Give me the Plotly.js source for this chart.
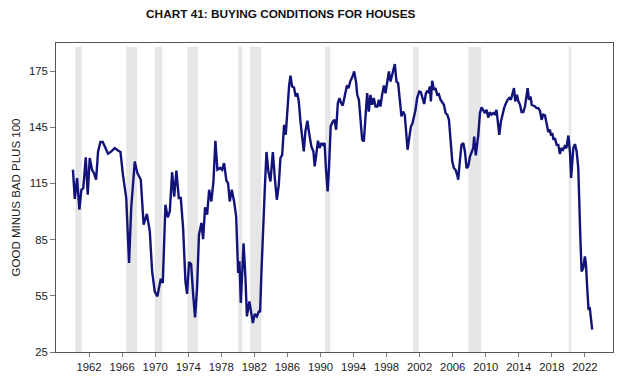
<!DOCTYPE html>
<html>
<head>
<meta charset="utf-8">
<script src="https://cdn.plot.ly/plotly-3.0.1.min.js"></script>
<style>html,body{margin:0;padding:0;background:#fff;}#chart{width:624px;height:380px;}</style>
</head>
<body>
<div id="chart"></div>
<script>
// Survey dates (fractional years) and index values (good minus bad plus 100)
var years = [
  1960.05,1960.27,1960.55,1960.83,1961.07,1961.3,1961.6,1961.84,1962.08,1962.36,1962.6,1962.85,1963.09,1963.37,1963.66,1963.94,1964.3,1964.7,1965.1,1965.5,1965.8,1966.1,1966.5,1966.84,1967.1,1967.53,1967.85,1968.26,1968.6,1969.0,1969.35,1969.63,1969.95,1970.27,
  1970.68,1970.92,1971.24,1971.52,1971.77,1972.05,1972.3,1972.57,1972.86,1973.1,1973.38,1973.66,1973.86,1974.1,1974.35,1974.6,1974.83,1975.07,1975.3,1975.6,1975.8,1976.04,1976.29,1976.53,1976.8,1977.05,1977.29,1977.53,1977.86,1978.1,1978.34,1978.62,1978.82,1979.02,1979.27,1979.55,1979.8,1980.04,1980.2,1980.36,1980.7,1980.92,1981.1,1981.4,1981.6,1981.82,
  1982.05,1982.3,1982.55,1982.7,1982.86,1983.07,1983.27,1983.47,1983.7,1983.95,1984.24,1984.48,1984.72,1984.96,1985.16,1985.37,1985.6,1985.8,1986.0,1986.2,1986.37,1986.57,1986.8,1987.0,1987.2,1987.38,1987.58,1987.78,1987.98,1988.18,1988.42,1988.63,1988.9,1989.15,1989.3,1989.5,1989.7,1989.9,1990.1,1990.3,1990.5,1990.66,1990.87,1991.03,1991.24,1991.5,1991.7,1991.9,1992.1,1992.3,1992.5,1992.7,
  1993.0,1993.2,1993.4,1993.6,1993.88,1994.08,1994.3,1994.45,1994.65,1994.85,1995.05,1995.25,1995.5,1995.65,1995.85,1996.05,1996.25,1996.45,1996.66,1996.9,1997.07,1997.26,1997.46,1997.67,1997.87,1998.07,1998.28,1998.48,1998.68,1998.84,1999.0,1999.2,1999.4,1999.6,1999.8,2000.0,2000.2,2000.4,2000.54,2000.74,2000.95,2001.14,2001.35,2001.5,2001.7,2001.95,2002.15,2002.35,2002.55,2002.76,2002.95,2003.05,
  2003.24,2003.36,2003.52,2003.73,2003.92,2004.13,2004.33,2004.53,2004.74,2004.94,2005.14,2005.34,2005.55,2005.67,2005.79,2005.95,2006.15,2006.35,2006.55,2006.67,2006.88,2007.07,2007.28,2007.48,2007.68,2007.88,2008.09,2008.28,2008.49,2008.6,2008.8,2009.1,2009.3,2009.5,2009.7,2009.9,2010.1,2010.3,2010.5,2010.7,2010.9,2011.1,2011.3,2011.5,2011.64,2011.84,2012.04,2012.24,2012.45,2012.65,2012.85,2013.05,2013.25,2013.42,2013.57,2013.78,
  2013.94,2014.15,2014.34,2014.55,2014.75,2014.95,2015.07,2015.24,2015.43,2015.56,2015.75,2015.96,2016.15,2016.36,2016.56,2016.76,2016.96,2017.17,2017.36,2017.57,2017.77,2017.9,2018.05,2018.2,2018.37,2018.58,2018.78,2018.98,2019.15,2019.35,2019.55,2019.76,2020.0,2020.2,2020.33,2020.45,2020.6,2020.8,2021.0,2021.2,2021.3,2021.45,2021.6,2021.8,2022.0,2022.13,2022.28,2022.44,2022.6,2022.73,2022.88
];
var index = [
  122.3,106.8,117.9,101,111.6,112.5,128.9,109,128.6,122.3,120.5,117,132,137.1,137.1,133.9,130.9,132.1,133.9,132.6,131.8,119.6,107.2,72.5,101.9,126.7,120.5,117,93,98.7,89.4,68,57.3,54.7,
  64.1,61.8,103.6,96.9,100,121,108,121.8,107.2,107.2,91.2,62.7,56,73,72,55.6,43.5,59.2,87.6,93.9,85.3,102.2,98.3,111.6,105.4,116,137.8,122.3,123.2,122.3,125.9,116.4,115.2,105.4,111.6,105.4,97.4,67.2,73.4,51.2,83,65,44,52,47,40.5,
  45.3,44,46.7,46.7,68,94.7,112.5,131.8,121.4,116.1,131.8,117.9,106.3,114.3,128.6,130.3,146.3,141,154.3,166.8,172.6,166.8,166.2,161.4,163.2,158.8,148.1,139.2,132.1,142.8,148.5,141.9,134.8,132.1,124.1,130.7,137.8,133.9,136.6,135.6,136.6,123.2,110.7,123.2,145.5,148.1,149,143.7,157.9,160.6,157.9,156.6,
  163.2,167.3,165.9,169.4,172.1,174.8,169.4,162.3,159.7,148.1,138.3,137.4,150.8,163.2,153.4,162.3,157,160.6,156.1,156.1,159.7,156.1,162.3,167.3,163.2,169.4,174.8,169.4,173,176.6,178.7,169.4,168.6,159.7,150.8,153.4,151.7,141,133,139.2,145.4,147.2,151.7,154.2,160.6,164.1,163.8,160.6,157.4,163.2,164.5,163.2,
  166.8,158.8,169.8,165,165.9,162.3,162.7,159.7,157.9,157,152.6,151.7,149,141,132.1,126.7,123.2,122.3,119.6,117,127.6,135.6,136.6,132.1,123.2,124.1,129.4,132.1,133.9,140,130,141,152.6,155.6,154.3,152.6,154.3,150.2,153,151.7,152.6,152,154.3,148.1,141,148.1,152.6,155.5,157.9,159.7,160.6,159.7,163.2,165.9,158.8,162.3,
  159,157,153.1,153.1,156.1,162.3,165.9,159.7,161.4,157,156.6,156.1,155.2,155.2,153.8,149,151.7,151.3,147.2,142.4,143.7,140.6,141.9,138.3,139.2,135.6,135.6,130.7,133.9,133,134.8,133.9,140.6,131.2,117.9,128.6,133.9,136,132.1,123.2,103.6,85.8,68,69.8,76,71.6,59.2,47.6,48.1,41.3,36.9
];
// Recession periods (shaded)
var recStart = [1960.33, 1966.5, 1969.95, 1973.9, 1980.05, 1981.5, 1990.55, 2001.2, 2007.9, 2020.05];
var recEnd   = [1961.1, 1967.8, 1970.87, 1975.2, 1980.55, 1982.85, 1991.2, 2001.9, 2009.45, 2020.35];
var xTicks = [1962,1966,1970,1974,1978,1982,1986,1990,1994,1998,2002,2006,2010,2014,2018,2022];
var yTicks = [25,55,85,115,145,175];

var shapes = recStart.map(function(s, i){
  return {type:'rect', xref:'x', yref:'y', x0:s, x1:recEnd[i], y0:25, y1:188,
          fillcolor:'#e6e6e6', line:{width:0}, layer:'below'};
});

var trace = {x: years, y: index, type:'scatter', mode:'lines',
  line:{color:'#12137a', width:2.4}, hoverinfo:'skip'};

var baseFont = 'Liberation Sans, Arial, sans-serif';
var layout = {
  width:624, height:380,
  margin:{l:56, r:11, t:43, b:28},
  paper_bgcolor:'#ffffff', plot_bgcolor:'#ffffff',
  showlegend:false,
  font:{family:baseFont, size:11, color:'#1a1a1a'},
  title:{text:'<b>CHART 41: BUYING CONDITIONS FOR HOUSES</b>',
    font:{family:baseFont, size:11.8, color:'#111'},
    x:0.45, xref:'container', xanchor:'center', y:0.963, yref:'container', yanchor:'middle'},
  xaxis:{range:[1958.0, 2025.4], tickvals:xTicks, ticktext:xTicks.map(String),
    showgrid:false, zeroline:false, showline:true, linecolor:'#555', linewidth:1, mirror:true,
    ticks:'outside', ticklen:4, tickcolor:'#777', tickfont:{size:11.3, color:'#1a1a1a'}},
  yaxis:{range:[25, 190], tickvals:yTicks, ticktext:yTicks.map(String),
    showgrid:false, zeroline:false, showline:true, linecolor:'#555', linewidth:1, mirror:true,
    ticks:'outside', ticklen:5, tickcolor:'#777', tickfont:{size:11.3, color:'#1a1a1a'},
    title:{text:'GOOD MINUS BAD PLUS 100', font:{size:11.5, color:'#1a1a1a'}, standoff:5}},
  shapes: shapes
};
Plotly.newPlot('chart', [trace], layout, {displayModeBar:false, staticPlot:true});
</script>
</body>
</html>
